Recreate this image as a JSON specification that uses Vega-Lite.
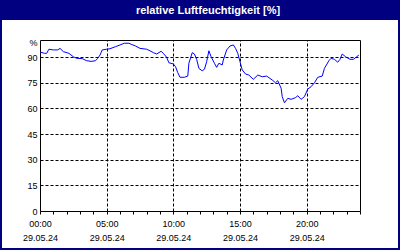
{
  "$schema": "https://vega.github.io/schema/vega-lite/v6.json",
  "width": 396,
  "height": 228,
  "autosize": {"type": "none"},
  "padding": {"left": 2, "right": 2, "top": 20, "bottom": 2},
  "background": "#000080",
  "title": {
    "text": "relative Luftfeuchtigkeit [%]",
    "color": "white",
    "font": "Liberation Sans",
    "fontSize": 11,
    "fontWeight": "bold",
    "anchor": "middle",
    "frame": "group",
    "dx": 8,
    "offset": 4
  },
  "config": {
    "view": {"fill": "white", "stroke": null},
    "axis": {
      "labelFont": "Liberation Sans",
      "labelFontSize": 9,
      "labelColor": "black",
      "domainColor": "black",
      "domainWidth": 1,
      "tickColor": "black",
      "gridColor": "black",
      "gridDash": [3, 2],
      "gridWidth": 1
    }
  },
  "data": {
    "values": [
      {"time": "2024-05-29T00:00", "rh": 93.0},
      {"time": "2024-05-29T00:20", "rh": 92.2},
      {"time": "2024-05-29T00:30", "rh": 92.2},
      {"time": "2024-05-29T00:40", "rh": 94.6},
      {"time": "2024-05-29T01:00", "rh": 94.2},
      {"time": "2024-05-29T01:20", "rh": 94.2},
      {"time": "2024-05-29T01:30", "rh": 95.1},
      {"time": "2024-05-29T01:45", "rh": 93.2},
      {"time": "2024-05-29T02:10", "rh": 92.2},
      {"time": "2024-05-29T02:30", "rh": 90.2},
      {"time": "2024-05-29T02:45", "rh": 89.3},
      {"time": "2024-05-29T03:10", "rh": 89.1},
      {"time": "2024-05-29T03:30", "rh": 87.9},
      {"time": "2024-05-29T03:50", "rh": 87.5},
      {"time": "2024-05-29T04:10", "rh": 87.9},
      {"time": "2024-05-29T04:20", "rh": 89.3},
      {"time": "2024-05-29T04:30", "rh": 91.2},
      {"time": "2024-05-29T04:40", "rh": 94.2},
      {"time": "2024-05-29T05:00", "rh": 94.6},
      {"time": "2024-05-29T05:15", "rh": 94.9},
      {"time": "2024-05-29T05:40", "rh": 96.1},
      {"time": "2024-05-29T06:00", "rh": 97.1},
      {"time": "2024-05-29T06:20", "rh": 98.1},
      {"time": "2024-05-29T06:40", "rh": 98.1},
      {"time": "2024-05-29T06:50", "rh": 97.5},
      {"time": "2024-05-29T07:10", "rh": 96.5},
      {"time": "2024-05-29T07:30", "rh": 95.1},
      {"time": "2024-05-29T08:00", "rh": 94.6},
      {"time": "2024-05-29T08:15", "rh": 93.7},
      {"time": "2024-05-29T08:30", "rh": 92.6},
      {"time": "2024-05-29T08:45", "rh": 91.8},
      {"time": "2024-05-29T09:05", "rh": 93.4},
      {"time": "2024-05-29T09:15", "rh": 92.2},
      {"time": "2024-05-29T09:30", "rh": 89.9},
      {"time": "2024-05-29T09:40", "rh": 86.7},
      {"time": "2024-05-29T10:00", "rh": 86.0},
      {"time": "2024-05-29T10:10", "rh": 84.4},
      {"time": "2024-05-29T10:20", "rh": 80.9},
      {"time": "2024-05-29T10:30", "rh": 78.2},
      {"time": "2024-05-29T10:50", "rh": 78.2},
      {"time": "2024-05-29T11:05", "rh": 78.9},
      {"time": "2024-05-29T11:10", "rh": 86.4},
      {"time": "2024-05-29T11:25", "rh": 92.6},
      {"time": "2024-05-29T11:35", "rh": 91.8},
      {"time": "2024-05-29T11:45", "rh": 88.7},
      {"time": "2024-05-29T11:55", "rh": 83.4},
      {"time": "2024-05-29T12:10", "rh": 82.0},
      {"time": "2024-05-29T12:20", "rh": 82.9},
      {"time": "2024-05-29T12:30", "rh": 87.3},
      {"time": "2024-05-29T12:40", "rh": 93.7},
      {"time": "2024-05-29T12:50", "rh": 90.2},
      {"time": "2024-05-29T13:05", "rh": 86.4},
      {"time": "2024-05-29T13:15", "rh": 84.0},
      {"time": "2024-05-29T13:25", "rh": 86.4},
      {"time": "2024-05-29T13:40", "rh": 85.4},
      {"time": "2024-05-29T13:45", "rh": 88.3},
      {"time": "2024-05-29T14:00", "rh": 94.2},
      {"time": "2024-05-29T14:15", "rh": 96.5},
      {"time": "2024-05-29T14:30", "rh": 97.1},
      {"time": "2024-05-29T14:40", "rh": 95.1},
      {"time": "2024-05-29T14:50", "rh": 92.2},
      {"time": "2024-05-29T15:00", "rh": 87.3},
      {"time": "2024-05-29T15:10", "rh": 82.5},
      {"time": "2024-05-29T15:25", "rh": 80.1},
      {"time": "2024-05-29T15:40", "rh": 79.5},
      {"time": "2024-05-29T16:00", "rh": 77.0},
      {"time": "2024-05-29T16:20", "rh": 79.5},
      {"time": "2024-05-29T16:40", "rh": 78.5},
      {"time": "2024-05-29T17:00", "rh": 78.9},
      {"time": "2024-05-29T17:25", "rh": 76.6},
      {"time": "2024-05-29T17:40", "rh": 75.0},
      {"time": "2024-05-29T17:50", "rh": 76.2},
      {"time": "2024-05-29T18:05", "rh": 71.8},
      {"time": "2024-05-29T18:10", "rh": 66.9},
      {"time": "2024-05-29T18:20", "rh": 63.3},
      {"time": "2024-05-29T18:35", "rh": 65.9},
      {"time": "2024-05-29T18:50", "rh": 65.3},
      {"time": "2024-05-29T19:10", "rh": 66.3},
      {"time": "2024-05-29T19:20", "rh": 67.4},
      {"time": "2024-05-29T19:35", "rh": 65.3},
      {"time": "2024-05-29T19:50", "rh": 66.9},
      {"time": "2024-05-29T20:05", "rh": 71.3},
      {"time": "2024-05-29T20:20", "rh": 72.7},
      {"time": "2024-05-29T20:35", "rh": 75.0},
      {"time": "2024-05-29T20:50", "rh": 78.2},
      {"time": "2024-05-29T21:10", "rh": 78.9},
      {"time": "2024-05-29T21:20", "rh": 83.4},
      {"time": "2024-05-29T21:40", "rh": 87.9},
      {"time": "2024-05-29T21:50", "rh": 89.3},
      {"time": "2024-05-29T22:05", "rh": 88.7},
      {"time": "2024-05-29T22:20", "rh": 87.0},
      {"time": "2024-05-29T22:30", "rh": 88.7},
      {"time": "2024-05-29T22:40", "rh": 91.8},
      {"time": "2024-05-29T22:55", "rh": 90.2},
      {"time": "2024-05-29T23:15", "rh": 88.7},
      {"time": "2024-05-29T23:30", "rh": 88.7},
      {"time": "2024-05-29T23:45", "rh": 90.2},
      {"time": "2024-05-29T23:55", "rh": 91.2}
    ]
  },
  "layer": [
    {
      "mark": {"type": "line", "stroke": "#0000FF", "strokeWidth": 1},
      "encoding": {
        "x": {
          "field": "time",
          "type": "temporal",
          "scale": {
            "domain": [
              {"year": 2024, "month": 5, "date": 29, "hours": 0},
              {"year": 2024, "month": 5, "date": 30, "hours": 0}
            ],
            "range": [38, 358],
            "nice": false
          },
          "axis": {
            "orient": "bottom",
            "offset": -37,
            "title": null,
            "values": [
              {"year": 2024, "month": 5, "date": 29, "hours": 0},
              {"year": 2024, "month": 5, "date": 29, "hours": 1},
              {"year": 2024, "month": 5, "date": 29, "hours": 2},
              {"year": 2024, "month": 5, "date": 29, "hours": 3},
              {"year": 2024, "month": 5, "date": 29, "hours": 4},
              {"year": 2024, "month": 5, "date": 29, "hours": 5},
              {"year": 2024, "month": 5, "date": 29, "hours": 6},
              {"year": 2024, "month": 5, "date": 29, "hours": 7},
              {"year": 2024, "month": 5, "date": 29, "hours": 8},
              {"year": 2024, "month": 5, "date": 29, "hours": 9},
              {"year": 2024, "month": 5, "date": 29, "hours": 10},
              {"year": 2024, "month": 5, "date": 29, "hours": 11},
              {"year": 2024, "month": 5, "date": 29, "hours": 12},
              {"year": 2024, "month": 5, "date": 29, "hours": 13},
              {"year": 2024, "month": 5, "date": 29, "hours": 14},
              {"year": 2024, "month": 5, "date": 29, "hours": 15},
              {"year": 2024, "month": 5, "date": 29, "hours": 16},
              {"year": 2024, "month": 5, "date": 29, "hours": 17},
              {"year": 2024, "month": 5, "date": 29, "hours": 18},
              {"year": 2024, "month": 5, "date": 29, "hours": 19},
              {"year": 2024, "month": 5, "date": 29, "hours": 20},
              {"year": 2024, "month": 5, "date": 29, "hours": 21},
              {"year": 2024, "month": 5, "date": 29, "hours": 22},
              {"year": 2024, "month": 5, "date": 29, "hours": 23},
              {"year": 2024, "month": 5, "date": 30, "hours": 0}
            ],
            "tickSize": 3,
            "labelPadding": 5,
            "labelFlush": false,
            "labelOverlap": false,
            "labelLineHeight": 14,
            "labelExpr": "indexof(['00','05','10','15','20'], timeFormat(datum.value, '%H')) >= 0 && timeFormat(datum.value, '%d') == '29' ? [timeFormat(datum.value, '%H:%M'), timeFormat(datum.value, '%d.%m.%y')] : ''",
            "grid": false
          }
        },
        "y": {
          "field": "rh",
          "type": "quantitative",
          "scale": {"domain": [0, 100], "range": [191, 20], "nice": false, "zero": false},
          "axis": {
            "orient": "left",
            "offset": -38,
            "values": [0, 15, 30, 45, 60, 75, 90],
            "ticks": false,
            "labelPadding": 3,
            "grid": true,
            "title": "%",
            "titleAngle": 0,
            "titleFont": "Liberation Sans",
            "titleFontSize": 9,
            "titleFontWeight": "normal",
            "titleColor": "black",
            "titleAlign": "right",
            "titleBaseline": "middle",
            "titleX": -3,
            "titleY": 22
          }
        }
      }
    },
    {
      "mark": {"type": "line", "strokeOpacity": 0},
      "encoding": {
        "x": {
          "field": "time",
          "type": "temporal",
          "axis": {
            "orient": "top",
            "offset": -20,
            "title": null,
            "values": [
              {"year": 2024, "month": 5, "date": 29, "hours": 5},
              {"year": 2024, "month": 5, "date": 29, "hours": 10},
              {"year": 2024, "month": 5, "date": 29, "hours": 15},
              {"year": 2024, "month": 5, "date": 29, "hours": 20}
            ],
            "labels": false,
            "ticks": false,
            "grid": true
          }
        },
        "y": {
          "field": "rh",
          "type": "quantitative",
          "axis": {
            "orient": "right",
            "offset": -38,
            "title": null,
            "labels": false,
            "ticks": false,
            "grid": false
          }
        }
      }
    }
  ],
  "resolve": {"axis": {"x": "independent", "y": "independent"}}
}
